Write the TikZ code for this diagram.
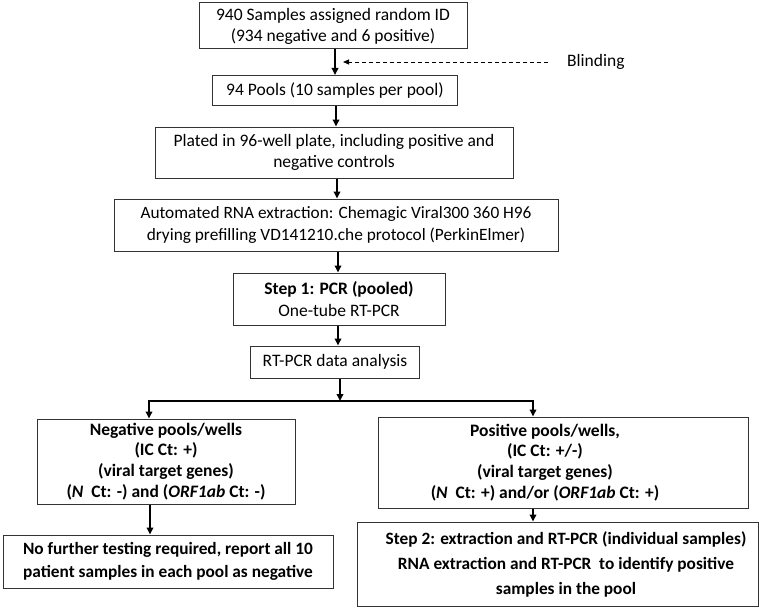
\documentclass[tikz,border=0pt]{standalone}
\usepackage{fontspec}
\setmainfont{Carlito}
\usetikzlibrary{arrows.meta}
\begin{document}
\begin{tikzpicture}[x=1pt,y=-1pt,
  box/.style={draw=black!80, line width=1pt, rectangle, align=center, inner sep=0pt,
    font=\fontsize{17.5}{21.5}\selectfont},
  boldtext/.style={font=\bfseries\fontsize{17.5}{20.7}\selectfont},
  bigbold/.style={font=\bfseries\fontsize{17.3}{23}\selectfont},
  txt/.style={align=center, inner sep=0pt},
  flow/.style={line width=1.8pt, -{Triangle[length=7pt,width=6.5pt]}},
  plain/.style={line width=1.8pt},
  blindarrow/.style={line width=0.9pt, dash pattern=on 4.5pt off 2.5pt, -{Triangle[length=6pt,width=5pt]}}]
\useasboundingbox[fill=white] (0,0) rectangle (759,607);

\node[box, minimum width=268pt, minimum height=46pt, font=\fontsize{17.5}{21}\selectfont] (b1) at (333,26)
  {940 Samples assigned random ID\\(934 negative and 6 positive)};
\node[box, minimum width=245pt, minimum height=30pt] (b2) at (335,90.5)
  {94 Pools (10 samples per pool)};
\node[box, minimum width=358pt, minimum height=51pt] (b3) at (334,152.5)
  {Plated in 96-well plate, including positive and\\negative controls};
\node[box, minimum width=444pt, minimum height=52pt, font=\fontsize{17.3}{22}\selectfont] (b4) at (336,225)
  {Automated RNA extraction: Chemagic Viral300 360 H96\\drying prefilling VD141210.che protocol (PerkinElmer)};
\node[box, minimum width=212pt, minimum height=52pt] (b5) at (339,299)
  {\textbf{Step 1: PCR (pooled)}\\One-tube RT-PCR};
\node[box, minimum width=169pt, minimum height=32pt] (b6) at (335,362)
  {RT-PCR data analysis};
\node[box, boldtext, minimum width=258pt, minimum height=85pt] (b7) at (166,461.5)
  {Negative pools/wells\\(IC Ct: +)\\(viral target genes)\\(\textit{N}\ \ Ct: -) and (\textit{ORF1ab} Ct: -)};
\node[box, minimum width=370pt, minimum height=91pt] (b8) at (563,462.5) {};
\node[txt, boldtext] (b8t) at (545,462.5)
  {Positive pools/wells,\\(IC Ct: +/-)\\(viral target genes)\\(\textit{N}\ \ Ct: +) and/or (\textit{ORF1ab} Ct: +)};
\node[box, bigbold, minimum width=330pt, minimum height=53pt] (b9) at (168,561.5)
  {No further testing required, report all 10\\patient samples in each pool as negative};
\node[box, minimum width=401pt, minimum height=84pt] (b10) at (557.5,564) {};
\node[txt, font=\bfseries\fontsize{17.3}{25}\selectfont] (b10t) at (566,564)
  {Step 2: extraction and RT-PCR (individual samples)\\RNA extraction and RT-PCR\ \ to identify positive\\samples in the pool};

\node[font=\fontsize{17.5}{20}\selectfont, anchor=west, inner sep=0pt] (blind) at (567,62) {Blinding};
\coordinate (bs) at (548,62);
\coordinate (be) at (343,62);

\coordinate (c1) at (335,0);
\draw[flow] (c1 |- b1.south) -- (c1 |- b2.north);
\draw[blindarrow] (bs) -- (be);
\coordinate (c2) at (336,0);
\draw[flow] (c2 |- b2.south) -- (c2 |- b3.north);
\coordinate (c3) at (337,0);
\draw[flow] (c3 |- b3.south) -- (c3 |- b4.north);
\coordinate (c4) at (338,0);
\draw[flow] (c4 |- b4.south) -- (c4 |- b5.north);
\coordinate (c5) at (338,0);
\draw[flow] (c5 |- b5.south) -- (c5 |- b6.north);

\coordinate (sp) at (340,401);
\coordinate (sl) at (149,401);
\coordinate (sr) at (533,401);
\draw[flow] (sp |- b6.south) -- (sp);
\draw[plain] ([xshift=-0.9pt]sl) -- ([xshift=0.9pt]sr);
\draw[flow] (sl) -- (sl |- b7.north);
\draw[flow] (sr) -- (sr |- b8.north);

\coordinate (c7) at (150,0);
\draw[flow] (c7 |- b7.south) -- (c7 |- b9.north);
\coordinate (c8) at (533,0);
\draw[flow] (c8 |- b8.south) -- (c8 |- b10.north);
\end{tikzpicture}
\end{document}
